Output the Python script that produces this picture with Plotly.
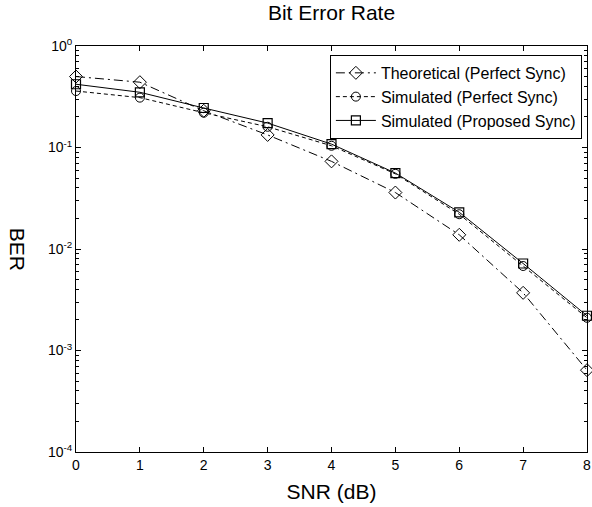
import plotly.graph_objects as go

snr = [0, 1, 2, 3, 4, 5, 6, 7, 8]
ber_theory = [0.50, 0.44, 0.23, 0.133, 0.073, 0.036, 0.0138, 0.0037, 0.00064]
ber_sim_perfect = [0.36, 0.31, 0.22, 0.16, 0.104, 0.055, 0.022, 0.0068, 0.0021]
ber_sim_proposed = [0.42, 0.35, 0.245, 0.174, 0.108, 0.056, 0.023, 0.0072, 0.0022]
names = ["Theoretical (Perfect Sync)", "Simulated (Perfect Sync)", "Simulated (Proposed Sync)"]

major_vals = [1e-4, 1e-3, 1e-2, 1e-1, 1]
major_text = ["10<sup>-4</sup>", "10<sup>-3</sup>", "10<sup>-2</sup>", "10<sup>-1</sup>", "10<sup>0</sup>"]
minor_vals = [m * 10 ** e for e in range(-4, 0) for m in range(2, 10)]

font = "Liberation Sans, Arial, sans-serif"

fig = go.Figure()
fig.add_trace(go.Scatter(x=snr, y=ber_theory, name=names[0], mode="lines+markers", cliponaxis=False,
                         line=dict(color="black", width=1, dash="9px,4px,2px,4px"),
                         marker=dict(symbol="diamond-open", size=10, color="black", line=dict(width=1))))
fig.add_trace(go.Scatter(x=snr, y=ber_sim_perfect, name=names[1], mode="lines+markers", cliponaxis=False,
                         line=dict(color="black", width=1, dash="4px,3px"),
                         marker=dict(symbol="circle-open", size=9, color="black", line=dict(width=1))))
fig.add_trace(go.Scatter(x=snr, y=ber_sim_proposed, name=names[2], mode="lines+markers", cliponaxis=False,
                         line=dict(color="black", width=1),
                         marker=dict(symbol="square-open", size=9, color="black", line=dict(width=1.2))))

fig.update_layout(
    width=592, height=507,
    margin=dict(l=76, r=5, t=46, b=55, autoexpand=False),
    paper_bgcolor="white", plot_bgcolor="white",
    font=dict(family=font, color="black", size=14),
    title=dict(text="Bit Error Rate", xref="paper", x=0.5, xanchor="center",
               yref="container", y=1 - 13 / 507, yanchor="middle",
               font=dict(size=21, family=font, color="black")),
    showlegend=True,
    legend=dict(x=0.99, xanchor="right", y=0.978, yanchor="top",
                bordercolor="black", borderwidth=1, bgcolor="white",
                font=dict(size=16, family=font), tracegroupgap=0, itemwidth=40),
    xaxis=dict(range=[0, 8], tickvals=snr, ticks="inside", ticklen=5, tickcolor="black",
               showline=True, linecolor="black", linewidth=1, mirror="ticks",
               showgrid=False, zeroline=False, automargin=False,
               tickfont=dict(size=14, family=font),
               title=dict(text="SNR (dB)", font=dict(size=21, family=font), standoff=12)),
    yaxis=dict(type="log", range=[-4, 0], tickvals=major_vals, ticktext=major_text,
               ticks="inside", ticklen=5, tickcolor="black", automargin=False,
               minor=dict(tickvals=minor_vals, ticks="inside", ticklen=3, tickcolor="black", showgrid=False),
               showline=True, linecolor="black", linewidth=1, mirror="ticks",
               showgrid=False, zeroline=False,
               tickfont=dict(size=14, family=font)),
    annotations=[dict(text="BER", textangle=90, x=-0.113, xanchor="center", xref="paper",
                      y=0.5, yref="paper", showarrow=False, font=dict(size=21, family=font))],
)

fig.write_html("out.html", config={"displayModeBar": False},
               post_script="document.body.style.margin='0';document.body.style.overflow='hidden';")
